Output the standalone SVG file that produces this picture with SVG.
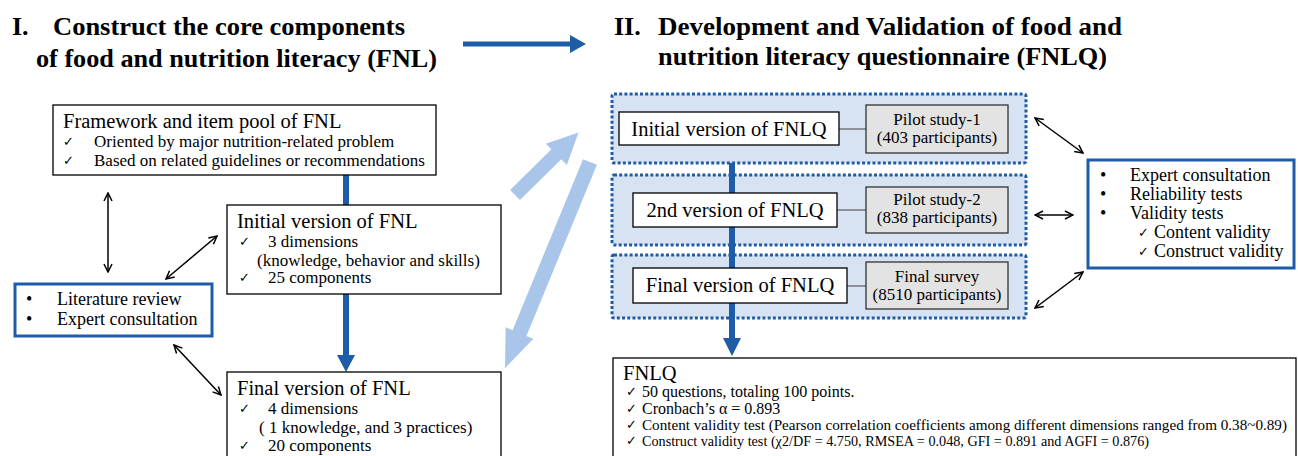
<svg xmlns="http://www.w3.org/2000/svg" width="1298" height="456" viewBox="0 0 1298 456">
<defs>
<style>
.t{font-family:"Liberation Serif","Times New Roman","DejaVu Serif",serif;fill:#000}
.title{font-weight:bold;font-size:26px}
.h{font-size:20.5px}
.b{font-size:17px}
.m{font-size:18px}
.s{font-size:16px}
.xs{font-size:14.5px}
.ck{font-family:"DejaVu Sans",sans-serif;font-size:13px;fill:#000}
.box{fill:#fff;stroke:#000;stroke-width:1.3}
.bbox{fill:#fff;stroke:#1f5ca8;stroke-width:3}
.cont{fill:#d7e2f2;stroke:#1f5ca8;stroke-width:3;stroke-dasharray:3 2.2}
.gbox{fill:#e3e3e3;stroke:#333;stroke-width:1.3}
.dbl{stroke:#000;stroke-width:1.5;fill:none;marker-start:url(#vh);marker-end:url(#vh)}
.blue{fill:#1f5ca8}
.bline{stroke:#1f5ca8;stroke-width:6;fill:none}
.light{fill:#a9c5ea}
.thin{stroke:#666;stroke-width:1.3}
</style>
<marker id="vh" viewBox="0 0 10 10" refX="9" refY="5" markerWidth="10" markerHeight="10" markerUnits="userSpaceOnUse" orient="auto-start-reverse">
<path d="M1,1 L9,5 L1,9" fill="none" stroke="#000" stroke-width="1.5"/>
</marker>
</defs>

<g id="title-1">
<text class="t title" x="12" y="35">I.</text>
<text class="t title" x="53" y="35" textLength="352" lengthAdjust="spacingAndGlyphs">Construct the core components</text>
<text class="t title" x="36" y="67" textLength="401" lengthAdjust="spacingAndGlyphs">of food and nutrition literacy (FNL)</text>
</g>
<g id="title-2">
<text class="t title" x="614" y="35">II.</text>
<text class="t title" x="658" y="35" textLength="464" lengthAdjust="spacingAndGlyphs">Development and Validation of food and</text>
<text class="t title" x="658" y="65" textLength="449" lengthAdjust="spacingAndGlyphs">nutrition literacy questionnaire (FNLQ)</text>
</g>

<g id="container-1"><rect class="cont" x="612" y="94" width="414" height="69" rx="2"/></g>
<g id="container-2"><rect class="cont" x="612" y="175" width="414" height="70" rx="2"/></g>
<g id="container-3"><rect class="cont" x="612" y="255" width="414" height="63" rx="2"/></g>

<g id="connectors">
<polygon class="blue" points="463,41.5 570,41.5 570,35 586,44 570,53 570,46.5 463,46.5"/>
<line class="bline" x1="346" y1="175" x2="346" y2="357"/>
<polygon class="blue" points="337,355 355,355 346,372"/>
<line class="bline" x1="732" y1="163" x2="732" y2="340"/>
<polygon class="blue" points="723,338 741,338 732,356"/>
<polygon class="light" transform="translate(515,195) rotate(-44.5)" points="0,-7 58,-7 58,-15 89,0 58,15 58,7 0,7"/>
<polygon class="light" transform="translate(590,162) rotate(112.4)" points="0,-7.5 185,-7.5 185,-15 223,0 185,15 185,7.5 0,7.5"/>
<line class="dbl" x1="108" y1="193" x2="108" y2="272"/>
<line class="dbl" x1="166" y1="279" x2="217" y2="236"/>
<line class="dbl" x1="174" y1="345" x2="221" y2="395"/>
<line class="dbl" x1="1035" y1="118" x2="1083" y2="153"/>
<line class="dbl" x1="1035" y1="215" x2="1073" y2="215"/>
<line class="dbl" x1="1035" y1="308" x2="1083" y2="272"/>
<line class="thin" x1="839" y1="129" x2="866" y2="129"/>
<line class="thin" x1="837" y1="210" x2="866" y2="210"/>
<line class="thin" x1="847" y1="286" x2="866" y2="286"/>
</g>

<g id="framework">
<rect class="box" x="53" y="105" width="383" height="70"/>
<text class="t h" x="63" y="128">Framework and item pool of FNL</text>
<text class="ck" x="63" y="146">✓</text><text class="t b" x="94" y="147">Oriented by major nutrition-related problem</text>
<text class="ck" x="63" y="165">✓</text><text class="t b" x="94" y="166">Based on related guidelines or recommendations</text>
</g>

<g id="literature">
<rect class="bbox" x="15" y="284" width="197" height="52"/>
<text class="t m" x="26" y="305">•</text><text class="t m" x="57" y="305">Literature review</text>
<text class="t m" x="26" y="325">•</text><text class="t m" x="57" y="325">Expert consultation</text>
</g>

<g id="initial-fnl">
<rect class="box" x="227" y="205" width="274" height="89"/>
<text class="t h" x="237" y="228">Initial version of FNL</text>
<text class="ck" x="239" y="246">✓</text><text class="t b" x="268" y="247">3 dimensions</text>
<text class="t b" x="257" y="266">(knowledge, behavior and skills)</text>
<text class="ck" x="239" y="282">✓</text><text class="t b" x="268" y="283">25 components</text>
</g>

<g id="final-fnl">
<rect class="box" x="227" y="372" width="274" height="100"/>
<text class="t h" x="237" y="395">Final version of FNL</text>
<text class="ck" x="239" y="413">✓</text><text class="t b" x="268" y="414">4 dimensions</text>
<text class="t b" x="259" y="433">( 1 knowledge, and 3 practices)</text>
<text class="ck" x="239" y="450">✓</text><text class="t b" x="268" y="451">20 components</text>
</g>

<g id="initial-fnlq">
<rect class="box" x="619" y="112" width="220" height="33"/>
<text class="t h" x="729" y="136" text-anchor="middle">Initial version of FNLQ</text>
</g>
<g id="pilot-1">
<rect class="gbox" x="866" y="105" width="142" height="48"/>
<text class="t b" x="937" y="125" text-anchor="middle">Pilot study-1</text>
<text class="t b" x="937" y="143" text-anchor="middle">(403 participants)</text>
</g>

<g id="second-fnlq">
<rect class="box" x="633" y="193" width="204" height="34"/>
<text class="t h" x="735" y="217" text-anchor="middle">2nd version of FNLQ</text>
</g>
<g id="pilot-2">
<rect class="gbox" x="866" y="187" width="142" height="46"/>
<text class="t b" x="937" y="205" text-anchor="middle">Pilot study-2</text>
<text class="t b" x="937" y="223" text-anchor="middle">(838 participants)</text>
</g>

<g id="final-fnlq">
<rect class="box" x="633" y="268" width="214" height="35"/>
<text class="t h" x="740" y="292" text-anchor="middle">Final version of FNLQ</text>
</g>
<g id="final-survey">
<rect class="gbox" x="866" y="262" width="142" height="47"/>
<text class="t b" x="937" y="282" text-anchor="middle">Final survey</text>
<text class="t b" x="937" y="300" text-anchor="middle">(8510 participants)</text>
</g>

<g id="methods">
<rect class="bbox" x="1088" y="160" width="206" height="108"/>
<text class="t m" x="1100" y="181">•</text><text class="t m" x="1130" y="181">Expert consultation</text>
<text class="t m" x="1100" y="200">•</text><text class="t m" x="1130" y="200">Reliability tests</text>
<text class="t m" x="1100" y="219">•</text><text class="t m" x="1130" y="219">Validity tests</text>
<text class="ck" x="1138" y="237">✓</text><text class="t m" x="1154" y="238">Content validity</text>
<text class="ck" x="1138" y="256">✓</text><text class="t m" x="1154" y="257">Construct validity</text>
</g>

<g id="fnlq">
<rect class="box" x="613" y="358" width="683" height="110"/>
<text class="t h" x="623" y="380">FNLQ</text>
<text class="ck" x="626" y="396">✓</text><text class="t s" x="642" y="397">50 questions, totaling 100 points.</text>
<text class="ck" x="626" y="413">✓</text><text class="t s" x="642" y="414">Cronbach’s α = 0.893</text>
<text class="ck" x="626" y="429">✓</text><text class="t xs" x="642" y="430" textLength="645" lengthAdjust="spacingAndGlyphs">Content validity test (Pearson correlation coefficients among different dimensions ranged from 0.38~0.89)</text>
<text class="ck" x="626" y="445">✓</text><text class="t xs" x="642" y="446" textLength="507" lengthAdjust="spacingAndGlyphs">Construct validity test (χ2/DF = 4.750, RMSEA = 0.048, GFI = 0.891 and AGFI = 0.876)</text>
</g>
</svg>
